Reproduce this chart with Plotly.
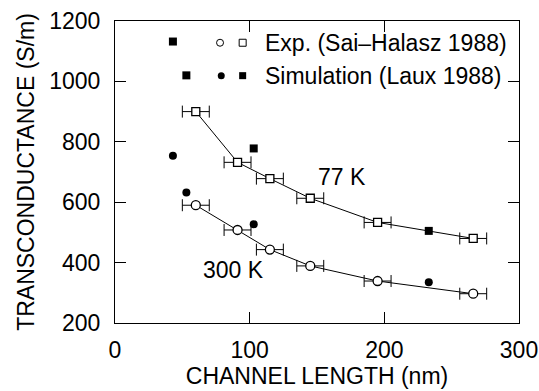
import plotly.graph_objects as go

# Experimental data (Sai-Halasz 1988)
exp_len = [60, 91, 115, 145, 195, 266]
exp_77k = [900, 732, 678, 613, 533, 480]
exp_300k = [590, 508, 443, 389, 339, 297]
exp_err = [10, 10, 10, 10, 10, 10]

# Simulation (Laux 1988)
sim_len_77k = [43, 53, 103, 233]
sim_77k = [1132, 1020, 778, 505]
sim_len_300k = [43, 53, 103, 233]
sim_300k = [754, 632, 527, 335]

x_ticks = [0, 100, 200, 300]
y_ticks = [200, 400, 600, 800, 1000, 1200]

FONT = "Liberation Sans, Arial, sans-serif"
FS = 23

fig = go.Figure()

fig.add_trace(go.Scatter(
    x=exp_len, y=exp_77k, mode="lines+markers",
    line=dict(color="black", width=1),
    marker=dict(symbol="square", size=8, color="white", line=dict(color="black", width=1.3)),
    error_x=dict(type="data", array=exp_err, color="black", thickness=1, width=6),
))
fig.add_trace(go.Scatter(
    x=exp_len, y=exp_300k, mode="lines+markers",
    line=dict(color="black", width=1),
    marker=dict(symbol="circle", size=9, color="white", line=dict(color="black", width=1.3)),
    error_x=dict(type="data", array=exp_err, color="black", thickness=1, width=6),
))
fig.add_trace(go.Scatter(
    x=sim_len_77k, y=sim_77k, mode="markers",
    marker=dict(symbol="square", size=8, color="black"),
))
fig.add_trace(go.Scatter(
    x=sim_len_300k, y=sim_300k, mode="markers",
    marker=dict(symbol="circle", size=8, color="black"),
))

# legend keys on an overlay axis (0..1 of plot area)
fig.add_trace(go.Scatter(
    x=[0.26, 0.316], y=[0.928, 0.928], xaxis="x2", yaxis="y2", mode="markers",
    marker=dict(symbol=["circle", "square"], size=7, color="white", line=dict(color="black", width=1)),
))
fig.add_trace(go.Scatter(
    x=[0.263, 0.316], y=[0.819, 0.819], xaxis="x2", yaxis="y2", mode="markers",
    marker=dict(symbol=["circle", "square"], size=7, color="black"),
))

axis_common = dict(
    showgrid=False, zeroline=False, showline=True, linecolor="black", linewidth=1,
    mirror="ticks", ticks="inside", ticklen=11, tickcolor="black", tickwidth=1,
    tickfont=dict(family=FONT, size=FS, color="black"), automargin=False,
)

fig.update_layout(
    width=539, height=391,
    margin=dict(l=115, r=20, t=21, b=68),
    paper_bgcolor="white", plot_bgcolor="white",
    showlegend=False,
    font=dict(family=FONT, size=FS, color="black"),
    xaxis=dict(range=[0, 300], tickvals=x_ticks, **axis_common, ticklabelstandoff=6,
               title=dict(text="CHANNEL LENGTH (nm)", font=dict(family=FONT, size=FS), standoff=3)),
    yaxis=dict(range=[200, 1200], tickvals=y_ticks, **axis_common, ticklabelstandoff=9,
               title=dict(text="TRANSCONDUCTANCE (S/m)", font=dict(family=FONT, size=FS), standoff=8)),
    xaxis2=dict(range=[0, 1], overlaying="x", visible=False),
    yaxis2=dict(range=[0, 1], overlaying="y", visible=False),
    annotations=[
        dict(x=168.5, y=685, xref="x", yref="y", text="77 K", showarrow=False,
             font=dict(family=FONT, size=FS)),
        dict(x=88, y=376, xref="x", yref="y", text="300 K", showarrow=False,
             font=dict(family=FONT, size=FS)),
        dict(x=0.3656, y=0.928, xref="paper", yref="paper", xanchor="left", yanchor="middle",
             text="Exp. (Sai–Halasz 1988)", showarrow=False, font=dict(family=FONT, size=FS)),
        dict(x=0.3656, y=0.819, xref="paper", yref="paper", xanchor="left", yanchor="middle",
             text="Simulation (Laux 1988)", showarrow=False, font=dict(family=FONT, size=FS)),
    ],
)

fig.write_html(
    "out.html",
    config={"displayModeBar": False},
    post_script="document.body.style.margin='0';document.body.style.overflow='hidden';",
)
